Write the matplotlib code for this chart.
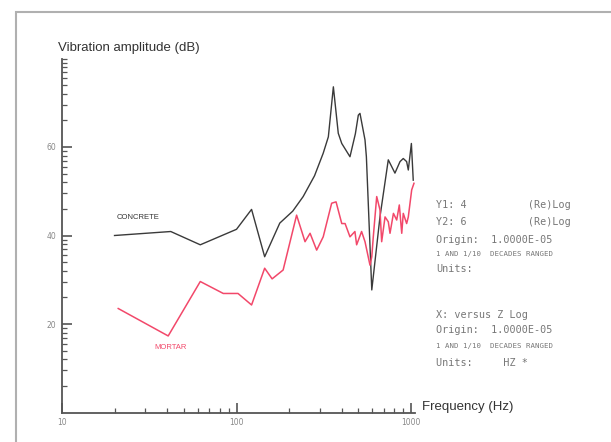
import matplotlib.pyplot as plt
import matplotlib.patches as mpatches
import numpy as np

# ----------------------------
# Data
# ----------------------------
concrete_f = [20, 42, 62, 100, 122, 145, 177, 210, 241, 280, 314, 336, 359,
              383, 401, 447, 480, 499, 510, 545, 555, 596, 664, 741, 809,
              865, 903, 944, 965, 1005, 1030]
concrete_db = [40.0, 40.9, 37.9, 41.4, 45.9, 35.2, 42.8, 45.5, 48.8, 53.5,
               58.6, 62.3, 73.6, 63.1, 60.8, 57.8, 63.0, 67.2, 67.6, 61.6,
               57.8, 27.7, 44.2, 57.1, 54.1, 56.7, 57.4, 56.7, 54.8, 60.8,
               52.5]

mortar_f = [21, 40.6, 62, 84, 102, 122, 145, 160, 185, 221, 247, 264, 288,
            314, 351, 372, 401, 419, 447, 477, 488, 521, 545, 582, 596,
            608, 636, 664, 679, 710, 741, 758, 793, 828, 857, 885, 903,
            944, 965, 1009, 1040]
mortar_db = [23.5, 17.3, 29.6, 26.9, 26.9, 24.3, 32.6, 30.2, 32.2, 44.6,
             38.6, 40.5, 36.7, 39.7, 47.3, 47.6, 42.7, 42.7, 39.7, 40.9,
             37.9, 40.9, 38.6, 33.3, 35.2, 39.7, 48.8, 45.8, 38.6, 44.2,
             43.1, 40.5, 45.0, 43.5, 46.9, 40.5, 45.0, 42.7, 44.2, 50.3, 51.8]

y_major = [20, 40, 60]
x_major = [10, 100, 1000]

info_top = ["Y1: 4          (Re)Log",
            "Y2: 6          (Re)Log",
            "Origin:  1.0000E-05",
            "1 AND 1/10  DECADES RANGED",
            "Units:"]
info_bottom = ["X: versus Z Log",
               "Origin:  1.0000E-05",
               "1 AND 1/10  DECADES RANGED",
               "Units:     HZ *"]

# ----------------------------
# Figure
# ----------------------------
W, H = 611, 442
fig = plt.figure(figsize=(W / 100, H / 100), dpi=100)
fig.patch.set_facecolor("white")

# light frame around the plot
fig.patches.append(mpatches.Rectangle((16 / W, -0.05), 1.05, (H - 12) / H + 0.05,
                                      transform=fig.transFigure, fill=False,
                                      edgecolor="#b0b0b0", lw=1.5))

ax = fig.add_axes([62 / W, 29.5 / H, 352.7 / W, 354 / H])
ax.set_xscale("log")
ax.set_xlim(10, 1050)
ax.set_ylim(0, 80)

ax.plot(concrete_f, concrete_db, color="#3a3a3a", lw=1.0)
ax.plot(mortar_f, mortar_db, color="#f2486a", lw=1.1)

ax.text(20.5, 44, "CONCRETE", fontsize=5.5, color="#333333", va="center",
        family="Liberation Sans")
ax.text(34, 14.8, "MORTAR", fontsize=5.5, color="#f2486a", va="center",
        family="Liberation Sans")

for s in ["top", "right"]:
    ax.spines[s].set_visible(False)
for s in ["left", "bottom"]:
    ax.spines[s].set_color("#555555")
    ax.spines[s].set_linewidth(1.3)

# y minor ticks behave like log ticks of the amplitude (20 dB per decade)
y_minor = [20 * n + 20 * np.log10(k) for n in range(4) for k in range(2, 10)]
x_minor = [k * 10 ** n for n in (1, 2) for k in range(2, 10)]
ax.set_yticks(y_major)
ax.set_yticks(y_minor + [80], minor=True)
ax.set_yticklabels([str(v) for v in y_major])
ax.set_xticks(x_major)
ax.set_xticks(x_minor, minor=True)
ax.set_xticklabels([str(v) for v in x_major])
ax.xaxis.set_minor_formatter(plt.NullFormatter())
ax.tick_params(axis="both", which="major", direction="in", length=7,
               width=1.2, color="#555555", labelsize=5.5, labelcolor="#888888",
               pad=4)
ax.tick_params(axis="both", which="minor", direction="in", length=3.5,
               width=0.9, color="#555555")

fig.text(58 / W, 1 - 48 / H, "Vibration amplitude (dB)", fontsize=9.5,
         family="Liberation Sans", color="#333333", ha="left", va="center")
fig.text(422 / W, 1 - 407 / H, "Frequency (Hz)", fontsize=9.5,
         family="Liberation Sans", color="#333333", ha="left", va="center")

# instrument read-out block on the right
ys_top = [205, 222, 240, 254, 269]
ys_bot = [315, 330, 346, 363]
for txt, y in zip(info_top + info_bottom, ys_top + ys_bot):
    small = "DECADES" in txt
    fig.text(436 / W, 1 - y / H, txt, family="DejaVu Sans Mono",
             fontsize=5.3 if small else 7.3, color="#777777",
             ha="left", va="center")

fig.savefig("out.png", dpi=100)
